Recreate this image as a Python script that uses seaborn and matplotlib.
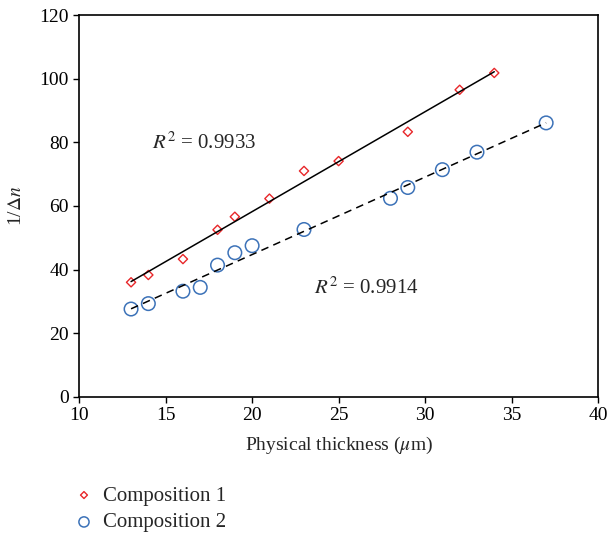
import matplotlib
matplotlib.use("Agg")
import matplotlib.pyplot as plt
import seaborn as sns
import pandas as pd

thick1 = [13, 14, 16, 18, 19, 21, 23, 25, 29, 32, 34]
inv1 = [36.0, 38.3, 43.3, 52.5, 56.6, 62.3, 71.0, 74.1, 83.3, 96.5, 101.8]
thick2 = [13, 14, 16, 17, 18, 19, 20, 23, 28, 29, 31, 33, 37]
inv2 = [27.6, 29.3, 33.2, 34.4, 41.4, 45.3, 47.5, 52.6, 62.4, 65.8, 71.4, 76.9, 86.1]

df1 = pd.DataFrame({"x": thick1, "y": inv1})
df2 = pd.DataFrame({"x": thick2, "y": inv2})

sns.set_style("ticks")
plt.rcParams['font.family'] = ['Liberation Serif', 'DejaVu Serif']
plt.rcParams['mathtext.fontset'] = 'stix'

fig = plt.figure(figsize=(6.09, 5.37), dpi=100)
ax = fig.add_axes([0.13, 0.261, 0.852, 0.711])

sns.regplot(data=df1, x="x", y="y", ax=ax, scatter=False, ci=None,
            line_kws=dict(color="black", lw=1.1))
sns.regplot(data=df2, x="x", y="y", ax=ax, scatter=False, ci=None,
            line_kws=dict(color="black", lw=1.1, ls=(0, (5, 3.5))))
sns.scatterplot(data=df1, x="x", y="y", ax=ax, marker="D", s=22,
                facecolor="none", edgecolor="#e8272a", linewidth=1.0,
                label="Composition 1", legend=False)
sns.scatterplot(data=df2, x="x", y="y", ax=ax, marker="o", s=95,
                facecolor="none", edgecolor="#3c72b8", linewidth=1.1,
                label="Composition 2", legend=False)

ax.set_xlim(10, 40)
ax.set_ylim(0, 120)
ax.set_xticks([10, 15, 20, 25, 30, 35, 40])
ax.set_yticks([0, 20, 40, 60, 80, 100, 120])
for s in ax.spines.values():
    s.set_linewidth(1.2)
    s.set_color("black")
ax.tick_params(direction="out", length=4, width=1, labelsize=14, colors="black")
ax.set_xlabel(r"Physical thickness ($\mu$m)", fontsize=14, labelpad=8)
ax.set_ylabel(r"1/$\Delta$$n$", fontsize=14, labelpad=10)

ax.text(14.2, 78, r"$R^2$ = 0.9933", fontsize=15)
ax.text(23.6, 32.5, r"$R^2$ = 0.9914", fontsize=15)

h, l = ax.get_legend_handles_labels()
fig.legend(h, l, loc="upper left", bbox_to_anchor=(0.09, 0.13),
           frameon=False, fontsize=15, handletextpad=0.4, handlelength=1.0,
           labelspacing=0.35, markerscale=0.75)

fig.savefig("out.png", dpi=100)
